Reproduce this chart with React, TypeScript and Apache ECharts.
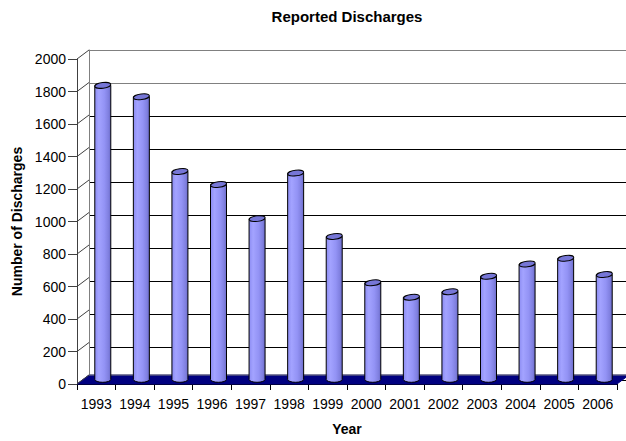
import React, { useEffect, useRef } from 'react';
import * as echarts from 'echarts';

const years = ['1993', '1994', '1995', '1996', '1997', '1998', '1999', '2000', '2001', '2002', '2003', '2004', '2005', '2006'];
const discharges = [1810, 1740, 1280, 1200, 990, 1270, 880, 595, 506, 540, 635, 710, 745, 645];
const yTicks = [0, 200, 400, 600, 800, 1000, 1200, 1400, 1600, 1800, 2000];

const DX = 12;
const DY = -9;
const FONT = '"Liberation Sans", Arial, sans-serif';

export default function App() {
  const ref = useRef<HTMLDivElement>(null);

  useEffect(() => {
    document.body.style.margin = '0';
    const chart = echarts.init(ref.current!, null, { renderer: 'svg' });

    const gridColors = yTicks.map((v) => (v >= 1800 ? '#808080' : '#000000'));

    const option: any = {
      animation: false,
      backgroundColor: '#ffffff',
      title: {
        text: 'Reported Discharges',
        left: 347,
        top: 9,
        textAlign: 'center',
        padding: 0,
        textStyle: { fontFamily: FONT, fontSize: 15, fontWeight: 'bold', color: '#000' },
      },
      grid: [
        { left: 77, top: 59, width: 540, height: 330 },
        { left: 89, top: 50, width: 537, height: 330 },
      ],
      xAxis: [
        {
          type: 'category',
          gridIndex: 0,
          data: years,
          boundaryGap: true,
          axisLine: { show: true, lineStyle: { color: '#000', width: 1 } },
          axisTick: { show: true, length: 6, lineStyle: { color: '#000' } },
          axisLabel: { fontFamily: FONT, fontSize: 14, color: '#000', margin: 13, interval: 0 },
          splitLine: { show: false },
          name: 'Year',
          nameLocation: 'middle',
          nameGap: 38,
          nameTextStyle: { fontFamily: FONT, fontSize: 14, fontWeight: 'bold', color: '#000' },
        },
        { type: 'value', gridIndex: 1, show: false, min: 0, max: 1 },
      ],
      yAxis: [
        {
          type: 'value',
          gridIndex: 0,
          min: 0,
          max: 2000,
          interval: 200,
          axisLine: { show: true, lineStyle: { color: '#404040', width: 1 } },
          axisTick: { show: true, length: 9, lineStyle: { color: '#404040' } },
          axisLabel: {
            fontFamily: FONT,
            fontSize: 14,
            color: '#000',
            margin: 11,
            formatter: (v: number) => String(v),
          },
          splitLine: { show: false },
          name: 'Number of Discharges',
          nameLocation: 'middle',
          nameRotate: 90,
          nameGap: 52,
          nameTextStyle: { fontFamily: FONT, fontSize: 14, fontWeight: 'bold', color: '#000' },
        },
        {
          type: 'value',
          gridIndex: 1,
          min: 0,
          max: 2000,
          interval: 200,
          axisLine: { show: true, lineStyle: { color: '#808080', width: 1 } },
          axisTick: { show: false },
          axisLabel: { show: false },
          splitLine: { show: true, lineStyle: { color: gridColors, width: 1 } },
        },
      ],
      series: [
        {
          type: 'custom',
          name: 'floor',
          xAxisIndex: 0,
          yAxisIndex: 0,
          silent: true,
          data: [[0, 0]],
          renderItem: (params: any, api: any) => {
            const band = api.size([1, 0])[0];
            const p0 = api.coord([0, 0]);
            const p1 = api.coord([years.length - 1, 0]);
            const L = p0[0] - band / 2;
            const R = p1[0] + band / 2;
            const y = p0[1];
            return {
              type: 'group',
              children: [
                {
                  type: 'polygon',
                  shape: { points: [[L, y], [R, y], [R + DX, y + DY], [L + DX, y + DY]] },
                  style: { fill: '#000080', stroke: '#000080', lineWidth: 1 },
                },
                {
                  type: 'line',
                  shape: { x1: L + DX, y1: y + DY, x2: R + DX, y2: y + DY },
                  style: { stroke: '#808080', lineWidth: 1 },
                },
              ],
            };
          },
        },
        {
          type: 'custom',
          name: 'connectors',
          xAxisIndex: 0,
          yAxisIndex: 0,
          silent: true,
          data: yTicks.map((v) => [0, v]),
          renderItem: (params: any, api: any) => {
            const band = api.size([1, 0])[0];
            const p = api.coord([api.value(0), api.value(1)]);
            const L = p[0] - band / 2;
            return {
              type: 'line',
              shape: { x1: L, y1: p[1], x2: L + DX, y2: p[1] + DY },
              style: { stroke: '#404040', lineWidth: 1 },
            };
          },
        },
        {
          type: 'custom',
          name: 'Discharges',
          xAxisIndex: 0,
          yAxisIndex: 0,
          data: discharges.map((v, i) => [i, v]),
          renderItem: (params: any, api: any) => {
            const i = api.value(0);
            const v = api.value(1);
            const top = api.coord([i, v]);
            const base = api.coord([i, 0]);
            const cx = top[0] + DX / 2 + 0.5;
            const ty = top[1] + DY / 2;
            const by = base[1] + DY / 2;
            const w = 8;
            const ry = 2.8;
            const body = `M ${cx - w} ${ty} L ${cx - w} ${by} A ${w} ${ry} 0 0 0 ${cx + w} ${by} L ${cx + w} ${ty} Z`;
            const cap = `M ${cx - w} ${ty} A ${w} ${ry} 0 1 0 ${cx + w} ${ty} A ${w} ${ry} 0 1 0 ${cx - w} ${ty} Z`;
            return {
              type: 'group',
              children: [
                {
                  type: 'path',
                  shape: { pathData: body },
                  style: {
                    fill: {
                      type: 'linear', x: 0, y: 0, x2: 1, y2: 0,
                      colorStops: [
                        { offset: 0, color: '#8c8cf2' },
                        { offset: 0.25, color: '#a3a3ff' },
                        { offset: 0.6, color: '#9393f5' },
                        { offset: 0.85, color: '#8080e0' },
                        { offset: 1, color: '#6a6ac8' },
                      ],
                    },
                    stroke: '#000000',
                    lineWidth: 1,
                  },
                },
                {
                  type: 'path',
                  shape: { pathData: cap },
                  rotation: 0.12,
                  originX: cx,
                  originY: ty,
                  style: { fill: '#7676d6', stroke: '#000000', lineWidth: 1 },
                },
              ],
            };
          },
        },
      ],
    };

    chart.setOption(option);
    return () => chart.dispose();
  }, []);

  return <div ref={ref} style={{ position: 'absolute', left: 0, top: 0, width: 626, height: 441 }} />;
}
